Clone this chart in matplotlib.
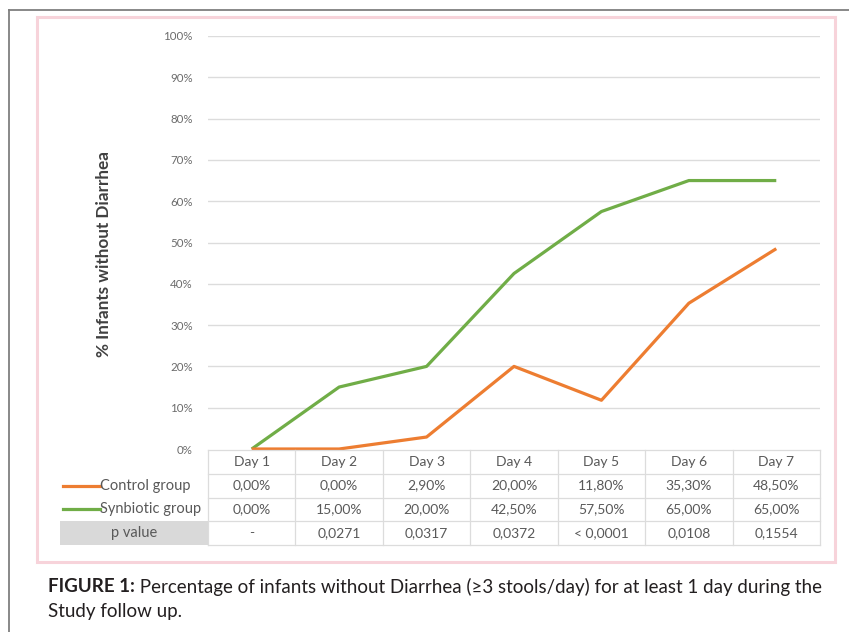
import matplotlib
matplotlib.use("Agg")
import matplotlib.pyplot as plt
from matplotlib.patches import Rectangle
from matplotlib.lines import Line2D
from matplotlib.text import Annotation

# data
days = ["Day 1", "Day 2", "Day 3", "Day 4", "Day 5", "Day 6", "Day 7"]
control = [0.0, 0.0, 2.9, 20.0, 11.8, 35.3, 48.5]
synbiotic = [0.0, 15.0, 20.0, 42.5, 57.5, 65.0, 65.0]
p_values = ["-", "0,0271", "0,0317", "0,0372", "< 0,0001", "0,0108", "0,1554"]
y_ticks = list(range(0, 101, 10))

ORANGE = "#ED7D31"
GREEN = "#70AD47"
GRID = "#dcdcdc"
TXT = "#595959"

plt.rcParams["font.family"] = ["Lato", "DejaVu Sans"]

W, H = 849, 632
fig = plt.figure(figsize=(W / 100, H / 100), dpi=100)


def fx(x):
    return x / W


def fy(y):
    return 1 - y / H


# outer frame (left + top lines)
fig.add_artist(Line2D([fx(9), fx(9)], [fy(10), fy(640)], color="#7f7f7f", lw=1.3, zorder=-2))
fig.add_artist(Line2D([fx(9), fx(849)], [fy(10), fy(10)], color="#7f7f7f", lw=1.3, zorder=-2))

# pinkish chart box
fig.add_artist(Rectangle((fx(37), fy(562)), fx(835) - fx(37), fy(17) - fy(562),
                         transform=fig.transFigure, facecolor="white",
                         edgecolor="#f7d3da", lw=2.2, zorder=-1))

# main plot
L, R, T, B = 208, 820, 36, 449
ax = fig.add_axes([fx(L), fy(B), fx(R) - fx(L), fy(T) - fy(B)])
ax.set_xlim(-0.5, len(days) - 0.5)
ax.set_ylim(0, 100)
ax.set_facecolor("none")
for s in ax.spines.values():
    s.set_visible(False)
ax.set_yticks(y_ticks)
ax.set_yticklabels([f"{v}%" for v in y_ticks], fontsize=8.3, color="#6b6b6b")
ax.tick_params(axis="y", length=0, pad=11)
ax.set_xticks([])
for v in y_ticks[1:]:
    ax.axhline(v, color=GRID, lw=1.0, zorder=0)

x = list(range(len(days)))
ax.plot(x, synbiotic, color=GREEN, lw=2.3, solid_capstyle="butt", zorder=3, clip_on=False)
ax.plot(x, control, color=ORANGE, lw=2.3, solid_capstyle="butt", zorder=4, clip_on=False)

fig.text(fx(104), fy(254), "% Infants without Diarrhea", rotation=90,
         ha="center", va="center", fontsize=12.3, fontweight="bold", color="#404040")

# data table under the plot
tab = fig.add_axes([fx(L), fy(545), fx(R) - fx(L), fy(450) - fy(545)])
tab.set_xlim(-0.5, len(days) - 0.5)
tab.set_ylim(4, 0)
tab.axis("off")

unit = (R - L) / len(days)
left_edge = -0.5 - (L - 60) / unit
tab.add_patch(Rectangle((left_edge, 3), -0.5 - left_edge, 1, facecolor="#d9d9d9",
                        edgecolor="none", clip_on=False))

for r in range(0, 5):
    tab.plot([-0.5, len(days) - 0.5], [r, r], color=GRID, lw=0.9, clip_on=False)
for c in range(len(days) + 1):
    tab.plot([c - 0.5, c - 0.5], [0, 4], color=GRID, lw=0.9, clip_on=False)

fs = 10
for i, d in enumerate(days):
    tab.text(i, 0.5, d, ha="center", va="center", fontsize=fs, color=TXT)
    tab.text(i, 1.5, f"{control[i]:.2f}%".replace(".", ","), ha="center",
             va="center", fontsize=fs, color=TXT)
    tab.text(i, 2.5, f"{synbiotic[i]:.2f}%".replace(".", ","), ha="center",
             va="center", fontsize=fs, color=TXT)
    tab.text(i, 3.5, p_values[i], ha="center", va="center", fontsize=fs, color=TXT)

lx0 = -0.5 - (L - 63) / unit
lx1 = -0.5 - (L - 100) / unit
for row, name, col in [(1.5, "Control group", ORANGE), (2.5, "Synbiotic group", GREEN)]:
    tab.plot([lx0, lx1], [row, row], color=col, lw=2.3, clip_on=False)
    tab.text(lx1, row, name, ha="left", va="center", fontsize=10.5, color=TXT)
tab.text(-0.5 - (L - 134) / unit, 3.5, "p value", ha="center", va="center",
         fontsize=10.5, color=TXT)

# caption
cap = fig.text(fx(48), fy(587), "FIGURE 1:", ha="left", va="center", fontsize=13.5,
               fontweight="bold", color="#231f20")
ann = Annotation(" Percentage of infants without Diarrhea (\u22653 stools/day) for at least 1 day during the",
                 xy=(1, 0.5), xycoords=cap, ha="left", va="center", fontsize=13.5,
                 color="#231f20")
fig.add_artist(ann)
fig.text(fx(48), fy(612), "Study follow up.", ha="left", va="center", fontsize=13.5,
         color="#231f20")

fig.savefig("out.png", dpi=100)
